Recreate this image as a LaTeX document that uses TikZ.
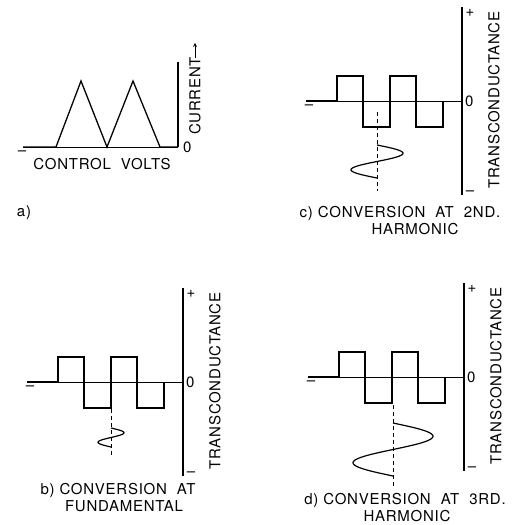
\documentclass[tikz,border=0pt]{standalone}
\usepackage{fontspec}
\setmainfont{TeX Gyre Heros}[LetterSpace=5.0]
\usetikzlibrary{positioning}
\tikzset{
    lbl/.style={inner sep=0pt, font=\fontsize{15}{17}\selectfont},
    sign/.style={inner sep=0pt, font=\fontsize{15}{17}\selectfont},
    zeroline/.style={line width=0.7pt},
    wave/.style={line width=1.3pt, line join=miter},
    axisline/.style={line width=1.2pt},
    guide/.style={line width=0.9pt, dash pattern=on 4pt off 3pt},
    curve/.style={line width=1.2pt, smooth, samples=60}
}
\newcommand\gap{\hspace{10pt}}
% one transconductance panel, origin at the axis on the zero line
\newcommand\tcpanel[1]{%
  \draw[zeroline] (-156,0) -- (0,0);
  \draw[wave] (-156,0) -- (-125,0) -- (-125,-25) -- (-99,-25) -- (-99,26)
    -- (-72,26) -- (-72,-25) -- (-46,-25) -- (-46,26) -- (-19,26) -- (-19,0);
  \draw[axisline] (0,-94) -- (0,94);
  \node[sign] (#1-minusl) at (-153,6) {--};
  \node[sign] (#1-plus) at (8,-88) {+};
  \node[sign] (#1-minus) at (8,92) {--};
  \node[sign, anchor=west] (#1-zero) at (3,0) {0};
  \node[lbl, rotate=90] (#1-tc) at (32,-1) {TRANSCONDUCTANCE};
}

\begin{document}
\begin{tikzpicture}[x=1pt, y=-1pt]
\useasboundingbox (0,0) rectangle (521,525);

% a) current against control volts
\draw[zeroline] (23,147) -- (178,147);
\draw[wave] (23,147) -- (56,147) -- (81,81) -- (107,147) -- (133,81) -- (160,147) -- (178,147);
\draw[axisline] (178,62) -- (178,147);
\node[sign] (a-minus) at (22,153) {--};
\node[sign, anchor=west] (a-zero) at (183,147) {0};
\node[lbl, rotate=90, anchor=west] (a-cur) at (195,135) {CURRENT};
\coordinate[above=14pt of a-cur.east] (a-tip);
\draw[line width=0.9pt, -stealth] ([yshift=-1pt]a-cur.east) -- (a-tip);
\node[lbl] (a-volts) at (102,164) {CONTROL\gap VOLTS};
\node[lbl] (a-tag) at (24,213) {a)};

% c) second harmonic
\begin{scope}[shift={(462,101)}]
\tcpanel{c}
\draw[guide] (-85,11) -- (-85,90);
\draw[curve] plot[domain=0:360] ({-85+26*sin(\x)},{44+\x/360*33});
\end{scope}
\node[lbl] (c-cap) at (400,213) {c) CONVERSION\gap AT\gap 2ND.};
\node[lbl] (c-cap2) at (415,229) {HARMONIC};

% b) fundamental
\begin{scope}[shift={(183,382)}]
\tcpanel{b}
\draw[guide] (-72,27) -- (-72,75);
\draw[curve] plot[domain=0:360] ({-72+13*sin(\x)},{46+\x/360*19});
\end{scope}
\node[lbl] (b-cap) at (118,490) {b) CONVERSION\gap AT};
\node[lbl] (b-cap2) at (124,506) {FUNDAMENTAL};

% d) third harmonic
\begin{scope}[shift={(464,377)}]
\tcpanel{d}
\draw[guide] (-71,28) -- (-71,110);
\draw[curve] plot[domain=0:360] ({-71+40*sin(\x)},{46+\x/360*53});
\end{scope}
\node[lbl] (d-cap) at (405,500) {d) CONVERSION\gap AT\gap 3RD.};
\node[lbl] (d-cap2) at (407,516) {HARMONIC};
\end{tikzpicture}
\end{document}
